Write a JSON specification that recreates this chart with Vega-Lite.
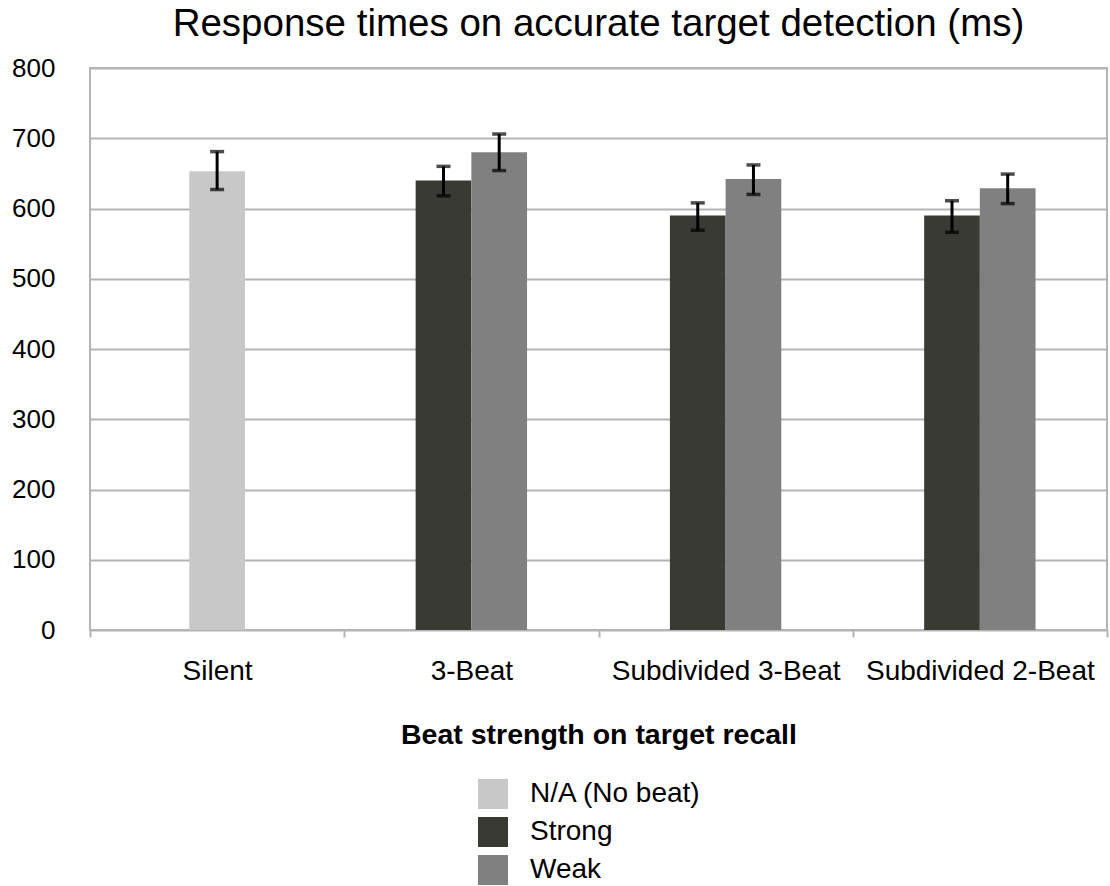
{
  "$schema": "https://vega.github.io/schema/vega-lite/v6.json",
  "width": 1017,
  "height": 562,
  "autosize": {"type": "none"},
  "padding": {"left": 90, "top": 68, "right": 3, "bottom": 256},
  "background": "white",
  "config": {
    "font": "Liberation Sans",
    "view": {"stroke": "#b4b4b4", "strokeWidth": 2}
  },
  "title": {
    "text": "Response times on accurate target detection (ms)",
    "fontSize": 38.5,
    "fontWeight": "normal",
    "font": "Liberation Sans",
    "color": "black",
    "anchor": "middle",
    "offset": 11
  },
  "data": {
    "values": [
      {"condition": "Silent", "strength": "N/A (No beat)", "mean": 653, "lo": 627, "hi": 681},
      {"condition": "3-Beat", "strength": "Strong", "mean": 640, "lo": 618, "hi": 660},
      {"condition": "3-Beat", "strength": "Weak", "mean": 680, "lo": 654, "hi": 706},
      {"condition": "Subdivided 3-Beat", "strength": "Strong", "mean": 590, "lo": 569, "hi": 608},
      {"condition": "Subdivided 3-Beat", "strength": "Weak", "mean": 642, "lo": 620, "hi": 662},
      {"condition": "Subdivided 2-Beat", "strength": "Strong", "mean": 590, "lo": 566, "hi": 611},
      {"condition": "Subdivided 2-Beat", "strength": "Weak", "mean": 629, "lo": 607, "hi": 649}
    ]
  },
  "encoding": {
    "x": {
      "field": "condition",
      "type": "nominal",
      "sort": ["Silent", "3-Beat", "Subdivided 3-Beat", "Subdivided 2-Beat"],
      "scale": {"paddingInner": 0, "paddingOuter": 0},
      "axis": {
        "title": "Beat strength on target recall",
        "titleFontSize": 28.5,
        "titleFontWeight": "bold",
        "titleColor": "black",
        "titlePadding": 35,
        "labelAngle": 0,
        "labelFontSize": 28,
        "labelColor": "black",
        "labelPadding": 20,
        "labelLimit": 400,
        "labelOverlap": false,
        "tickBand": "extent",
        "tickColor": "#b4b4b4",
        "tickWidth": 2,
        "tickSize": 7,
        "domain": false,
        "grid": false
      }
    }
  },
  "layer": [
    {
      "transform": [{"filter": "datum.strength === 'N/A (No beat)'"}],
      "layer": [
        {
          "mark": {"type": "bar", "width": {"band": 0.219}},
          "encoding": {
            "y": {
              "field": "mean",
              "type": "quantitative",
              "title": null,
              "scale": {"domain": [0, 800], "nice": false},
              "axis": {
                "values": [0, 100, 200, 300, 400, 500, 600, 700, 800],
                "grid": true,
                "gridColor": "#b4b4b4",
                "gridWidth": 2,
                "ticks": false,
                "domain": false,
                "labelFontSize": 26,
                "labelColor": "black",
                "labelPadding": 35
              }
            },
            "color": {
              "field": "strength",
              "type": "nominal",
              "scale": {"domain": ["N/A (No beat)", "Strong", "Weak"], "range": ["#c8c8c8", "#3a3a35", "#808080"]},
              "legend": {
                "title": null,
                "orient": "none",
                "legendX": 388,
                "legendY": 711,
                "direction": "vertical",
                "symbolType": "square",
                "symbolSize": 900,
                "symbolStrokeWidth": 0,
                "labelFontSize": 28,
                "labelLimit": 400,
                "labelColor": "black",
                "labelOffset": 22,
                "rowPadding": 8
              }
            }
          }
        },
        {
          "mark": {"type": "rule", "color": "black", "strokeWidth": 3},
          "encoding": {
            "y": {"field": "lo", "type": "quantitative", "title": null},
            "y2": {"field": "hi"}
          }
        },
        {
          "mark": {"type": "tick", "color": "black", "size": 14, "thickness": 3.5, "orient": "horizontal"},
          "encoding": {"y": {"field": "lo", "type": "quantitative", "title": null}}
        },
        {
          "mark": {"type": "tick", "color": "black", "size": 14, "thickness": 3.5, "orient": "horizontal"},
          "encoding": {"y": {"field": "hi", "type": "quantitative", "title": null}}
        }
      ]
    },
    {
      "transform": [{"filter": "datum.strength !== 'N/A (No beat)'"}],
      "encoding": {
        "xOffset": {
          "field": "strength",
          "type": "nominal",
          "scale": {"domain": ["Strong", "Weak"], "range": [71.4, 182.8], "paddingInner": 0, "paddingOuter": 0}
        }
      },
      "layer": [
        {
          "mark": {"type": "bar"},
          "encoding": {
            "y": {"field": "mean", "type": "quantitative", "title": null},
            "color": {
              "field": "strength",
              "type": "nominal",
              "legend": {
                "title": null,
                "orient": "none",
                "legendX": 388,
                "legendY": 711,
                "direction": "vertical",
                "symbolType": "square",
                "symbolSize": 900,
                "symbolStrokeWidth": 0,
                "labelFontSize": 28,
                "labelLimit": 400,
                "labelColor": "black",
                "labelOffset": 22,
                "rowPadding": 8
              }
            }
          }
        },
        {
          "mark": {"type": "rule", "color": "black", "strokeWidth": 3},
          "encoding": {
            "y": {"field": "lo", "type": "quantitative", "title": null},
            "y2": {"field": "hi"}
          }
        },
        {
          "mark": {"type": "tick", "color": "black", "size": 14, "thickness": 3.5, "orient": "horizontal"},
          "encoding": {"y": {"field": "lo", "type": "quantitative", "title": null}}
        },
        {
          "mark": {"type": "tick", "color": "black", "size": 14, "thickness": 3.5, "orient": "horizontal"},
          "encoding": {"y": {"field": "hi", "type": "quantitative", "title": null}}
        }
      ]
    }
  ]
}
